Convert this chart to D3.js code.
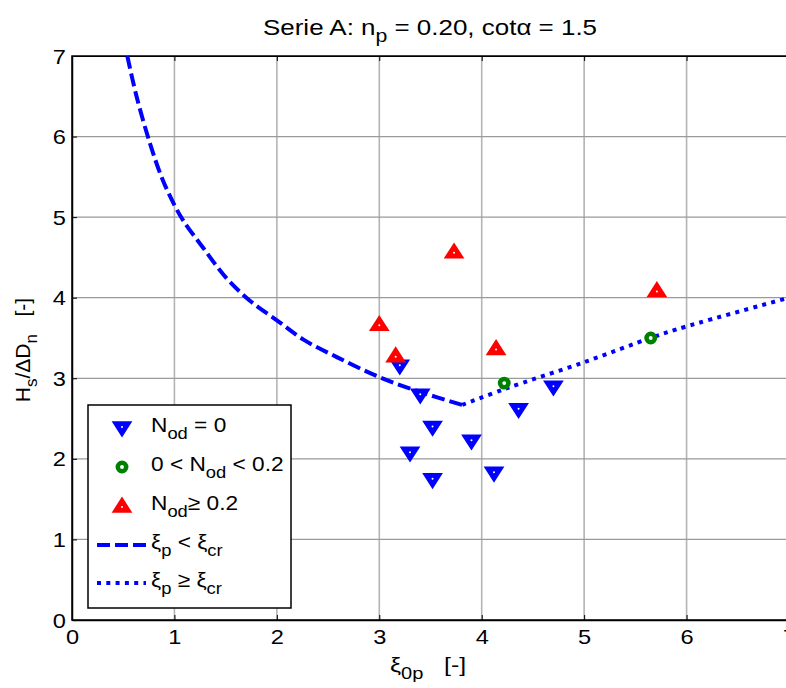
<!DOCTYPE html>
<html>
<head>
<meta charset="utf-8">
<script src="https://cdn.jsdelivr.net/npm/d3@7"></script>
<style>
  body { margin: 0; background: #fff; }
  text { font-family: "Liberation Sans", Arial, sans-serif; fill: #000; white-space: pre; }
</style>
</head>
<body>
<svg id="chart"></svg>
<script>
// Measured points, N_od = 0
const noneX = [3.20, 3.40, 3.52, 3.30, 3.52, 3.90, 4.12, 4.36, 4.70];
const noneY = [3.15, 2.79, 2.39, 2.07, 1.74, 2.22, 1.82, 2.61, 2.89];
// 0 < N_od < 0.2
const someX = [4.22, 5.65];
const someY = [2.94, 3.50];
// N_od >= 0.2
const heavyX = [3.73, 3.00, 3.16, 4.14, 5.71];
const heavyY = [4.57, 3.67, 3.28, 3.37, 4.09];

// Design curve, plunging part (xi_p < xi_cr)
const plungeX = [0.54, 0.63, 0.76, 0.88, 1.00, 1.09, 1.28, 1.51, 1.74, 2.00, 2.26, 2.59, 2.99, 3.40, 3.81];
const plungeY = [7.00, 6.50, 5.92, 5.48, 5.15, 4.95, 4.62, 4.24, 3.96, 3.72, 3.48, 3.26, 3.02, 2.83, 2.67];
// Design curve, surging part (xi_p >= xi_cr)
const surgeX = [3.81, 4.23, 5.00, 5.67, 5.99, 7.00];
const surgeY = [2.67, 2.87, 3.20, 3.51, 3.64, 4.00];

const xTicks = [0, 1, 2, 3, 4, 5, 6, 7];
const yTicks = [0, 1, 2, 3, 4, 5, 6, 7];

const width = 786, height = 688;
const pLeft = 72, pRight = 789, pTop = 56, pBottom = 620;
const stretch = 1.18; // text in the picture is a bit wider than Arial

const svg = d3.select('#chart').attr('width', width).attr('height', height);

const x = d3.scaleLinear().domain([0, 7]).range([pLeft, pRight]);
const y = d3.scaleLinear().domain([0, 7]).range([pBottom, pTop]);

// Grid
svg.append('g').selectAll('line').data(xTicks.slice(1, -1)).join('line')
    .attr('x1', d => x(d)).attr('x2', d => x(d))
    .attr('y1', pTop).attr('y2', pBottom)
    .attr('stroke', '#b4b4b4').attr('stroke-width', 1.6);
svg.append('g').selectAll('line').data(yTicks.slice(1, -1)).join('line')
    .attr('y1', d => y(d)).attr('y2', d => y(d))
    .attr('x1', pLeft).attr('x2', pRight)
    .attr('stroke', '#9a9a9a').attr('stroke-width', 1.2);

// Axes with inward ticks
const xAxis = svg.append('g').attr('transform', `translate(0,${pBottom})`)
    .call(d3.axisBottom(x).tickValues(xTicks).tickFormat(d3.format('d'))
        .tickSizeInner(-5).tickSizeOuter(0));
const yAxis = svg.append('g').attr('transform', `translate(${pLeft},0)`)
    .call(d3.axisLeft(y).tickValues(yTicks).tickFormat(d3.format('d'))
        .tickSizeInner(-5).tickSizeOuter(0));
svg.append('g').attr('transform', `translate(0,${pTop})`)
    .call(d3.axisTop(x).tickValues(xTicks).tickSizeInner(-5).tickSizeOuter(0).tickFormat(''));
xAxis.selectAll('text').attr('y', null).attr('dy', null)
    .attr('transform', `translate(0,24) scale(${stretch},1)`);
yAxis.selectAll('text').attr('x', null).attr('dy', null)
    .attr('transform', `translate(-6,7) scale(${stretch},1)`);
[xAxis, yAxis].forEach(a => {
    a.selectAll('text').style('font-size', '20px').attr('fill', '#000');
    a.select('.domain').attr('stroke-width', 1.5);
});
svg.selectAll('.tick line').attr('stroke', '#000');

svg.append('rect').attr('x', pLeft).attr('y', pTop)
    .attr('width', pRight - pLeft).attr('height', pBottom - pTop)
    .attr('fill', 'none').attr('stroke', '#000').attr('stroke-width', 1.5);

// Curves
const smooth = d3.line().x(d => x(d[0])).y(d => y(d[1])).curve(d3.curveCatmullRom);
svg.append('path').datum(d3.zip(plungeX, plungeY)).attr('d', smooth)
    .attr('fill', 'none').attr('stroke', '#0000ff').attr('stroke-width', 4)
    .attr('stroke-dasharray', '13,5');
svg.append('path').datum(d3.zip(surgeX, surgeY)).attr('d', smooth)
    .attr('fill', 'none').attr('stroke', '#0000ff').attr('stroke-width', 4)
    .attr('stroke-dasharray', '4,5.3');

// Markers
function triDown(g, cx, cy, color) {
    g.append('path').attr('d', `M${cx - 9},${cy - 6}L${cx + 9},${cy - 6}L${cx},${cy + 8}Z`)
        .attr('fill', color).attr('stroke', color).attr('stroke-width', 1.5);
    g.append('circle').attr('cx', cx).attr('cy', cy - 1).attr('r', 1).attr('fill', '#fff');
}
function triUp(g, cx, cy, color) {
    g.append('path').attr('d', `M${cx - 9},${cy + 6}L${cx + 9},${cy + 6}L${cx},${cy - 8}Z`)
        .attr('fill', color).attr('stroke', color).attr('stroke-width', 1.5);
    g.append('circle').attr('cx', cx).attr('cy', cy + 1).attr('r', 1).attr('fill', '#fff');
}
function ring(g, cx, cy) {
    g.append('circle').attr('cx', cx).attr('cy', cy).attr('r', 4.2)
        .attr('fill', '#fff').attr('stroke', '#008000').attr('stroke-width', 4.5);
}

const marks = svg.append('g');
d3.zip(noneX, noneY).forEach(d => triDown(marks, x(d[0]), y(d[1]), '#0000ff'));
d3.zip(someX, someY).forEach(d => ring(marks, x(d[0]), y(d[1])));
d3.zip(heavyX, heavyY).forEach(d => triUp(marks, x(d[0]), y(d[1]), '#ff0000'));

// Text with TeX-like subscripts, stretched sideways like the picture
function richText(g, tx, ty, parts, size, anchor, sx, rot) {
    const t = g.append('text')
        .attr('transform', `translate(${tx},${ty})${rot ? ' rotate(' + rot + ')' : ''} scale(${sx},1)`)
        .style('font-size', size + 'px').attr('text-anchor', anchor || 'start');
    let low = false;
    parts.forEach(p => {
        if (p.sub) {
            t.append('tspan').text(p.sub).style('font-size', Math.round(size * 0.8) + 'px')
                .attr('dy', 7);
            low = true;
        } else {
            const s = t.append('tspan').text(p.t);
            if (low) { s.attr('dy', -7); low = false; }
        }
    });
    return t;
}

// Legend
const lg = svg.append('g');
lg.append('rect').attr('x', 88).attr('y', 405).attr('width', 203).attr('height', 203)
    .attr('fill', '#fff').attr('stroke', '#000').attr('stroke-width', 1.5);
const rowY = [428, 467, 506, 545, 583];
triDown(lg, 122, rowY[0], '#0000ff');
ring(lg, 122, rowY[1]);
triUp(lg, 122, rowY[2], '#ff0000');
lg.append('line').attr('x1', 97).attr('x2', 146).attr('y1', rowY[3]).attr('y2', rowY[3])
    .attr('stroke', '#0000ff').attr('stroke-width', 4).attr('stroke-dasharray', '13,5');
lg.append('line').attr('x1', 97).attr('x2', 146).attr('y1', rowY[4]).attr('y2', rowY[4])
    .attr('stroke', '#0000ff').attr('stroke-width', 4).attr('stroke-dasharray', '4,5.3');

const legendLabels = [
    [{t: 'N'}, {sub: 'od'}, {t: ' = 0'}],
    [{t: '0 < N'}, {sub: 'od'}, {t: ' < 0.2'}],
    [{t: 'N'}, {sub: 'od'}, {t: '\u2265 0.2'}],
    [{t: '\u03be'}, {sub: 'p'}, {t: ' < \u03be'}, {sub: 'cr'}],
    [{t: '\u03be'}, {sub: 'p'}, {t: ' \u2265 \u03be'}, {sub: 'cr'}]
];
legendLabels.forEach((parts, i) => richText(lg, 151, rowY[i] + 4, parts, 21, 'start', 1.08));

// Title and axis labels
richText(svg, 430, 35,
    [{t: 'Serie A: n'}, {sub: 'p'}, {t: ' = 0.20, cot\u03b1 = 1.5'}], 22, 'middle', stretch);
richText(svg, 428, 672,
    [{t: '\u03be'}, {sub: '0p'}, {t: '   [-]'}], 21, 'middle', stretch);
richText(svg, 30, 350,
    [{t: 'H'}, {sub: 's'}, {t: '/\u0394D'}, {sub: 'n'}, {t: '   [-]'}], 21, 'middle', 1, -90);
</script>
</body>
</html>
